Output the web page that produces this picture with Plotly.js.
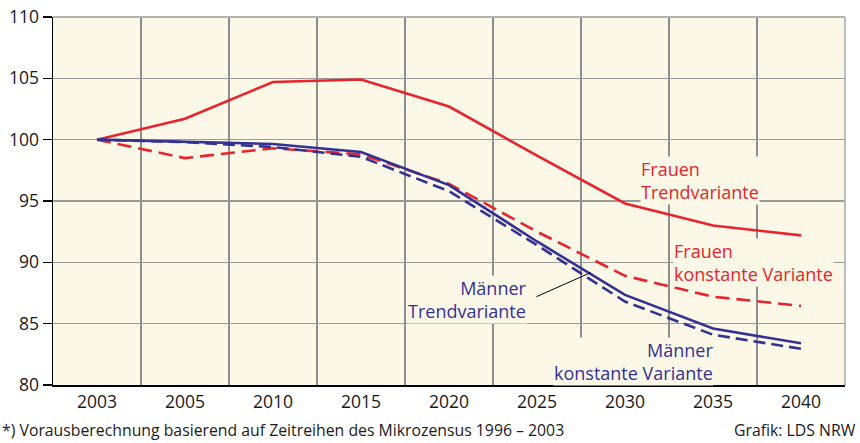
<!DOCTYPE html>
<html>
<head>
<meta charset="utf-8">
<script src="https://cdn.plot.ly/plotly-3.0.1.min.js"></script>
<style>html,body{margin:0;padding:0;background:#fff;}#chart{width:860px;height:443px;}</style>
</head>
<body>
<div id="chart"></div>
<script>
const years = ["2003","2005","2010","2015","2020","2025","2030","2035","2040"];
const frauenTrend = [100, 101.7, 104.7, 104.9, 102.7, 98.7, 94.8, 93.0, 92.2];
const frauenKonstant = [100, 98.5, 99.3, 98.8, 96.4, 92.5, 88.9, 87.2, 86.45];
const maennerTrend = [100, 99.85, 99.65, 99.0, 96.3, 91.7, 87.35, 84.6, 83.4];
const maennerKonstant = [100, 99.8, 99.4, 98.6, 95.8, 91.4, 86.8, 84.1, 82.95];
const yTicks = [80, 85, 90, 95, 100, 105, 110];

const RED = "#e8242c", BLUE = "#333194", BG = "#fcf8e8";
const FONT = "Open Sans, sans-serif";

function tr(y, color, dash, name) {
  return {x: years, y: y, type: "scatter", mode: "lines", name: name,
    line: {color: color, width: 2.6, dash: dash}, hoverinfo: "skip"};
}
const data = [
  tr(frauenTrend, RED, "solid", "Frauen Trendvariante"),
  tr(frauenKonstant, RED, "14px,7px", "Frauen konstante Variante"),
  tr(maennerKonstant, BLUE, "12px,6px", "Männer konstante Variante"),
  tr(maennerTrend, BLUE, "solid", "Männer Trendvariante")
];

function lab(text, x, y, color, xanchor) {
  return {text: text, x: x, y: y, xref: "x", yref: "y", showarrow: false,
    xanchor: xanchor, yanchor: "middle", align: xanchor,
    font: {family: FONT, size: 18, color: color}, bgcolor: BG, borderpad: 0};
}
const annotations = [
  lab("Frauen<br>Trendvariante", 6.175, 96.71, RED, "left"),
  lab("Frauen<br>konstante Variante", 6.55, 89.95, RED, "left"),
  lab("Männer<br>Trendvariante", 4.898, 87.01, BLUE, "right"),
  lab("Männer<br>konstante Variante", 7.011, 81.92, BLUE, "right"),
  {text: "*) Vorausberechnung basierend auf Zeitreihen des Mikrozensus 1996 – 2003",
    xref: "paper", yref: "paper", x: -0.0669, y: -0.1223, xanchor: "left", yanchor: "middle",
    showarrow: false, font: {family: FONT, size: 15.8, color: "#1a1a1a"}},
  {text: "Grafik: LDS NRW",
    xref: "paper", yref: "paper", x: 1.0164, y: -0.1223, xanchor: "right", yanchor: "middle",
    showarrow: false, font: {family: FONT, size: 15.8, color: "#1a1a1a"}}
];

const shapes = [
  {type: "line", xref: "paper", yref: "paper", x0: 0, x1: 1, y0: 1, y1: 1,
    line: {color: "#b4b4b4", width: 2}, layer: "above"},
  {type: "line", xref: "paper", yref: "paper", x0: 1, x1: 1, y0: 0, y1: 1,
    line: {color: "#a8a8a8", width: 1.5}, layer: "above"},
  {type: "line", xref: "x", yref: "y", x0: 4.993, y0: 87.2, x1: 5.61, y1: 89.16,
    line: {color: "#000", width: 1}, layer: "above"}
];

const layout = {
  width: 860, height: 443,
  margin: {l: 53, r: 15, t: 17, b: 58, pad: 0},
  paper_bgcolor: "#ffffff", plot_bgcolor: BG,
  showlegend: false,
  font: {family: FONT, size: 17.5, color: "#1a1a1a"},
  xaxis: {type: "category", range: [-0.5, 8.5], tickson: "boundaries",
    showgrid: true, gridcolor: "#8e8e8e", gridwidth: 1.3,
    ticks: "", showline: true, linecolor: "#000", linewidth: 1.5,
    tickfont: {family: FONT, size: 17.5, color: "#1a1a1a"}, zeroline: false, fixedrange: true},
  yaxis: {range: [80, 110], tickvals: yTicks, ticktext: yTicks.map(String),
    showgrid: true, gridcolor: "#9a9a9a", gridwidth: 1.3,
    ticks: "outside", ticklen: 9, tickwidth: 1.5, tickcolor: "#000",
    showline: true, linecolor: "#000", linewidth: 1.5, zeroline: false,
    tickfont: {family: FONT, size: 17.5, color: "#1a1a1a"}, fixedrange: true},
  annotations: annotations,
  shapes: shapes
};

Plotly.newPlot("chart", data, layout, {staticPlot: true, displayModeBar: false});
</script>
</body>
</html>
